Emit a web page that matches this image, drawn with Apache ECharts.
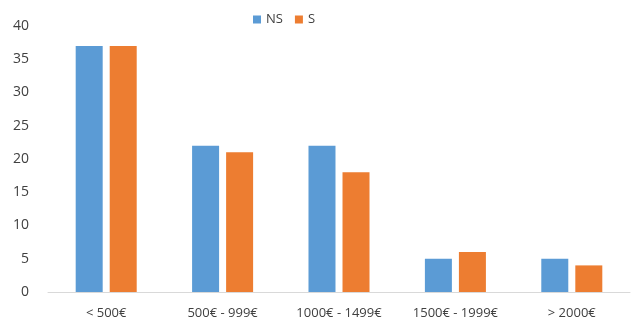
<!DOCTYPE html>
<html>
<head>
<meta charset="utf-8">
<script src="https://cdn.jsdelivr.net/npm/echarts@6/dist/echarts.min.js"></script>
<style>
  html, body { margin: 0; padding: 0; background: #fff; }
  #chart { width: 634px; height: 327px; }
</style>
</head>
<body>
<div id="chart"></div>
<script>
// Income brackets and counts per group
const categories = ['< 500€', '500€ - 999€', '1000€ - 1499€', '1500€ - 1999€', '> 2000€'];
const seriesNames = ['NS', 'S'];
const valuesNS = [37, 22, 22, 5, 5];
const valuesS = [37, 21, 18, 6, 4];
const yTicks = { min: 0, max: 40, interval: 5 };

const font = '"Open Sans", sans-serif';
const chart = echarts.init(document.getElementById('chart'));
chart.setOption({
  animation: false,
  textStyle: { fontFamily: font },
  legend: {
    top: 8,
    left: 248,
    itemWidth: 8,
    itemHeight: 8,
    itemGap: 12,
    itemTextGap: 4,
    icon: 'rect',
    textStyle: { fontSize: 13, color: '#404040', fontFamily: font },
    data: seriesNames
  },
  grid: { left: 48, right: 4, top: 26, bottom: 35, containLabel: false },
  xAxis: {
    type: 'category',
    data: categories,
    axisLine: { lineStyle: { color: '#D9D9D9', width: 1 } },
    axisTick: { show: false },
    axisLabel: { color: '#404040', fontSize: 13, margin: 15, interval: 0, fontFamily: font }
  },
  yAxis: {
    type: 'value',
    min: yTicks.min,
    max: yTicks.max,
    interval: yTicks.interval,
    splitLine: { show: false },
    axisLine: { show: false },
    axisTick: { show: false },
    axisLabel: { color: '#404040', fontSize: 14, margin: 19, fontFamily: font }
  },
  series: [
    { name: seriesNames[0], type: 'bar', data: valuesNS, barWidth: 27, barGap: '26%',
      itemStyle: { color: '#5B9BD5' } },
    { name: seriesNames[1], type: 'bar', data: valuesS, barWidth: 27,
      itemStyle: { color: '#ED7D31' } }
  ]
});
</script>
</body>
</html>
